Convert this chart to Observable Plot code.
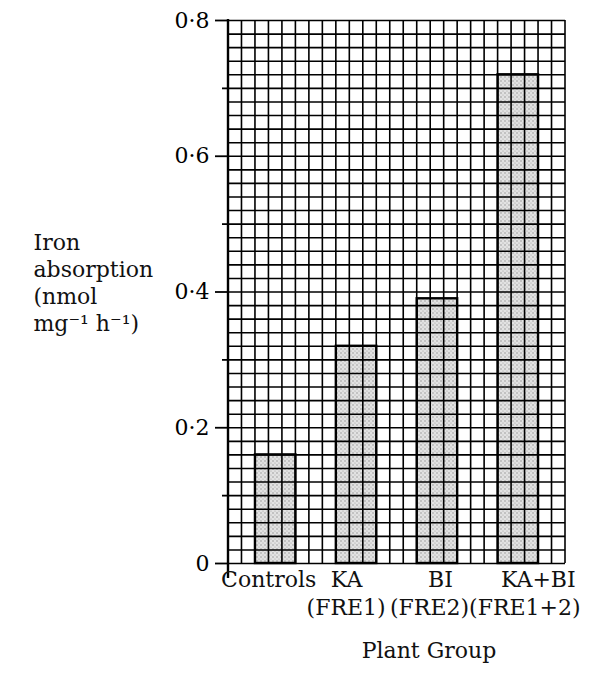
<!DOCTYPE html>
<html>
<head>
<meta charset="utf-8">
<script src="https://cdn.jsdelivr.net/npm/d3@7"></script>
<script src="https://cdn.jsdelivr.net/npm/@observablehq/plot@0.6"></script>
<style>
  html, body { margin: 0; padding: 0; background: #fff; }
  #chart svg { display: block; }
</style>
</head>
<body>
<div id="chart"></div>
<script>
// ---- data ----
const categories = ["Controls", "KA", "BI", "KA+BI"];
const absorption = [0.16, 0.32, 0.39, 0.72];
const labelRow1 = ["Controls", "KA", "BI", "KA+BI"];
const labelRow2 = ["", "(FRE1)", "(FRE2)", "(FRE1+2)"];
const yMajorTicks = [0, 0.2, 0.4, 0.6, 0.8];
const yMinorTicks = [0.1, 0.3, 0.5, 0.7];
const yTitleLines = ["Iron", "absorption", "(nmol", "mg\u207B\u00B9 h\u207B\u00B9)"];
const xTitle = "Plant Group";

// ---- layout / style (not data) ----
const FONT = "DejaVu Serif";
const row1Dx = [-7, -10, 3, 20];
const gridCols = 25;       // graph-paper columns
const gridStepY = 0.02;    // graph-paper row size in data units

const table = categories.map((c, i) => ({category: c, value: absorption[i], r1: labelRow1[i]}));
const gridRows = d3.range(0, Math.round(0.8 / gridStepY) + 1).map(i => +(i * gridStepY).toFixed(4));
const row2Text = labelRow2[1] + "\u2009" + labelRow2[2] + labelRow2[3];

const fmt = d => d === 0 ? "0" : d.toFixed(1).replace(".", "\u00B7");

// pattern definition for stippled bars
const defs = () => {
  const svg = d3.create("svg:g");
  const p = svg.append("defs").append("pattern")
    .attr("id", "stipple").attr("patternUnits", "userSpaceOnUse")
    .attr("width", 4).attr("height", 4);
  p.append("rect").attr("width", 4).attr("height", 4).attr("fill", "#e2e2e2");
  p.append("circle").attr("cx", 1).attr("cy", 1).attr("r", 0.7).attr("fill", "#8a8a8a");
  p.append("circle").attr("cx", 3).attr("cy", 3).attr("r", 0.6).attr("fill", "#a0a0a0");
  return svg.node();
};

// vertical graph-paper lines spanning the frame + y axis line
const vGrid = (index, scales, values, dims) => {
  const g = d3.create("svg:g");
  const x0 = dims.marginLeft, x1 = dims.width - dims.marginRight;
  const yTop = scales.y(0.8), yBot = scales.y(0);
  for (let i = 1; i <= gridCols; i++) {
    const x = x0 + (x1 - x0) * i / gridCols;
    g.append("line").attr("x1", x).attr("x2", x).attr("y1", yTop).attr("y2", yBot)
      .attr("stroke", "#000").attr("stroke-width", 1.6);
  }
  g.append("line").attr("x1", x0).attr("x2", x0).attr("y1", yTop - 1).attr("y2", yBot + 15)
    .attr("stroke", "#000").attr("stroke-width", 2.4);
  return g.node();
};

const textOpts = {fontFamily: FONT, fontSize: 22, fill: "#111"};

const marks = [
  defs,
  Plot.barY(table, {x: "category", y: "value", fill: "url(#stipple)"}),
  Plot.ruleY(gridRows, {stroke: "#000", strokeWidth: 1.6}),
  vGrid,
  Plot.barY(table, {x: "category", y: "value", fill: "none", stroke: "#000", strokeWidth: 2.4}),
  Plot.axisY({ticks: yMajorTicks, tickSize: 13, tickPadding: 6, tickFormat: fmt,
    fontSize: 22, fontFamily: FONT, label: null, strokeWidth: 1.8}),
  Plot.axisY({ticks: yMinorTicks, tickSize: 6, tickFormat: () => "", label: null, strokeWidth: 1.8}),
  Plot.text([yTitleLines.join("\n")], {text: d => d, frameAnchor: "left", textAnchor: "start", lineAnchor: "middle",
    lineHeight: 1.22, dx: -195, dy: -10, ...textOpts}),
  Plot.text([xTitle], {text: d => d, frameAnchor: "bottom", dx: 32, dy: 87, lineAnchor: "middle", ...textOpts}),
  Plot.text([row2Text], {text: d => d, x: () => categories[1], frameAnchor: "bottom", textAnchor: "start",
    lineAnchor: "middle", dy: 44, dx: -50, ...textOpts})
];
table.forEach((d, i) => {
  marks.push(Plot.text([d], {x: "category", text: "r1", frameAnchor: "bottom", lineAnchor: "middle",
    dy: 16, dx: row1Dx[i], ...textOpts}));
});

const chart = Plot.plot({
  width: 598,
  height: 683,
  marginLeft: 228,
  marginRight: 33,
  marginTop: 20,
  marginBottom: 120,
  style: {background: "#fff", fontFamily: FONT},
  x: {domain: categories, paddingInner: 0.5, paddingOuter: 1 / 3, round: false, axis: null},
  y: {domain: [0, 0.8], axis: null},
  marks
});
document.getElementById("chart").appendChild(chart);
</script>
</body>
</html>
